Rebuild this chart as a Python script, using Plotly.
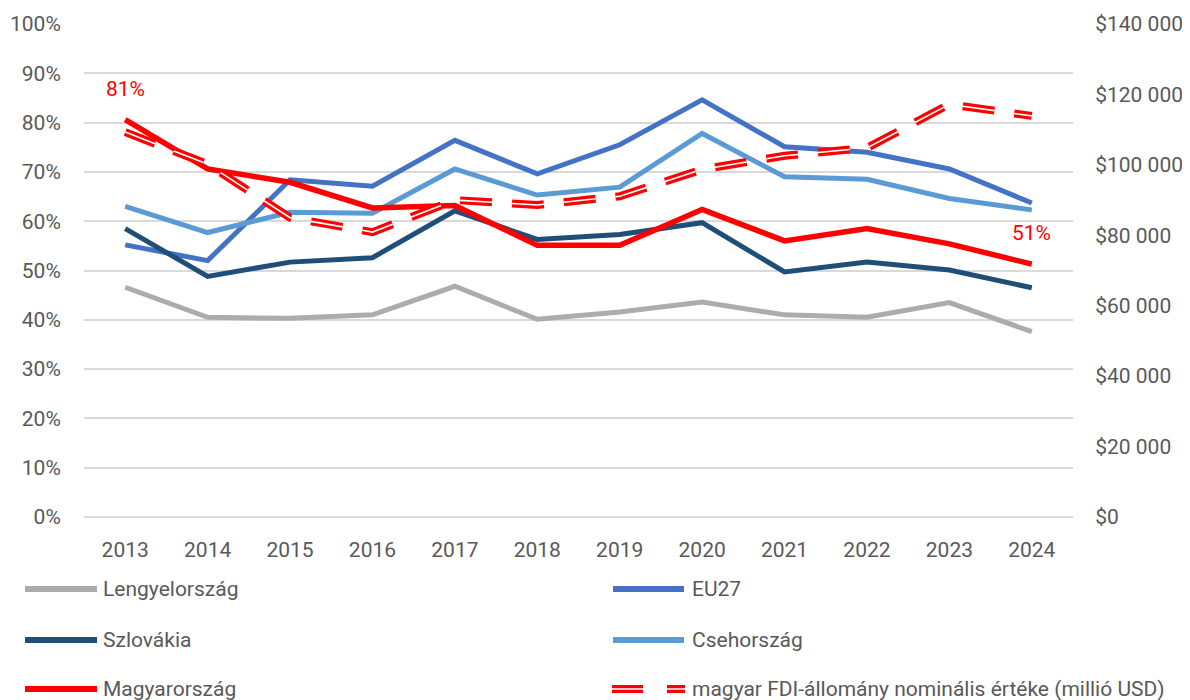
import plotly.graph_objects as go

years = ["2013", "2014", "2015", "2016", "2017", "2018", "2019", "2020", "2021", "2022", "2023", "2024"]
lengyel = [0.466, 0.405, 0.403, 0.410, 0.468, 0.401, 0.416, 0.436, 0.410, 0.405, 0.435, 0.376]
eu27 = [0.552, 0.520, 0.684, 0.671, 0.764, 0.696, 0.755, 0.846, 0.751, 0.740, 0.706, 0.637]
szlovakia = [0.585, 0.488, 0.517, 0.526, 0.621, 0.563, 0.573, 0.597, 0.497, 0.517, 0.501, 0.465]
cseh = [0.630, 0.577, 0.618, 0.616, 0.706, 0.653, 0.669, 0.778, 0.690, 0.685, 0.646, 0.623]
magyar = [0.806, 0.706, 0.679, 0.627, 0.632, 0.551, 0.551, 0.624, 0.560, 0.585, 0.554, 0.513]
fdi = [109300, 100200, 85000, 80900, 90000, 88600, 91100, 98700, 102600, 104800, 117200, 113900]

names = ["Lengyelország", "EU27", "Szlovákia", "Csehország", "Magyarország",
         "magyar FDI-állomány nominális értéke (millió USD)"]
colors = ["#AFABAB", "#4472C4", "#1F4E79", "#5B9BD5", "#FF0000", "#FF0000"]

FONT = "Roboto"
FS = 21
TXT = "#595959"
OFF = 8  # page body margin
W, H = 1190 - OFF, 700 - OFF
L, R, T, B = 76, 117, 16, 183
PW, PH = W - L - R, H - T - B


def px(x):
    return (x - OFF - L) / PW


def py(y):
    return (H - B - (y - OFF)) / PH


fig = go.Figure()
series = [lengyel, eu27, szlovakia, cseh, magyar]
widths = [5, 5, 5, 5, 5.5]
for s, n, c, w in zip(series, names, colors, widths):
    fig.add_trace(go.Scatter(x=years, y=s, name=n, mode="lines",
                             line=dict(color=c, width=w), showlegend=False))

DASH = "32px,20px"
fig.add_trace(go.Scatter(x=years, y=fdi, name=names[5], mode="lines", yaxis="y2",
                         line=dict(color="#FF0000", width=8, dash=DASH), showlegend=False))
fig.add_trace(go.Scatter(x=years, y=fdi, name=names[5], mode="lines", yaxis="y2",
                         line=dict(color="#FFFFFF", width=1.6, dash=DASH), showlegend=False,
                         hoverinfo="skip"))

annotations = []
for idx in (0, len(years) - 1):
    annotations.append(dict(x=idx, y=magyar[idx], xref="x", yref="y",
                            text=f"{round(magyar[idx] * 100)}%", showarrow=False,
                            yshift=31, font=dict(family=FONT, size=FS, color="#FF0000")))

# custom legend (two columns)
shapes = []
rows = [589, 640, 689]
cols = [(25, 97, 101), (613, 684, 690)]
for i, (n, c) in enumerate(zip(names, colors)):
    r, col = divmod(i, 2)
    x0, x1, xt = cols[col]
    y = rows[r]
    if i < 5:
        shapes.append(dict(type="line", xref="paper", yref="paper",
                           x0=px(x0), x1=px(x1), y0=py(y), y1=py(y),
                           line=dict(color=c, width=6)))
    else:
        for wdt, cc in ((8, "#FF0000"), (1.6, "#FFFFFF")):
            shapes.append(dict(type="line", xref="paper", yref="paper",
                               x0=px(x0 - 1), x1=px(x1 + 1), y0=py(y), y1=py(y),
                               line=dict(color=cc, width=wdt, dash="31px,24px")))
    annotations.append(dict(x=px(xt), y=py(y), xref="paper", yref="paper",
                            text=n, showarrow=False, xanchor="left", yanchor="middle",
                            font=dict(family=FONT, size=FS, color=TXT)))

fig.update_layout(
    width=W, height=H,
    margin=dict(l=L, r=R, t=T, b=B, autoexpand=False),
    paper_bgcolor="white", plot_bgcolor="white",
    separators=". ",
    font=dict(family=FONT, size=FS, color=TXT),
    showlegend=False,
    xaxis=dict(type="category", range=[-0.5, 11.5], showgrid=False, showline=False,
               zeroline=False, ticks="outside", ticklen=14, tickcolor="rgba(0,0,0,0)",
               automargin=False, tickfont=dict(family=FONT, size=FS, color=TXT)),
    yaxis=dict(range=[0, 1], dtick=0.1, tickformat=".0%", showgrid=True,
               gridcolor="#D9D9D9", gridwidth=1.5, zeroline=True, zerolinecolor="#D9D9D9",
               zerolinewidth=1.5, showline=False, ticks="outside", ticklen=18,
               automargin=False, tickcolor="rgba(0,0,0,0)",
               tickfont=dict(family=FONT, size=FS, color=TXT)),
    yaxis2=dict(range=[0, 140000], dtick=20000, tickformat=",d", tickprefix="$",
                overlaying="y", side="right", showgrid=False, zeroline=False, showline=False,
                ticks="outside", ticklen=17, tickcolor="rgba(0,0,0,0)", automargin=False,
                tickfont=dict(family=FONT, size=FS, color=TXT)),
    annotations=annotations,
    shapes=shapes,
)

fig.write_html("out.html")
